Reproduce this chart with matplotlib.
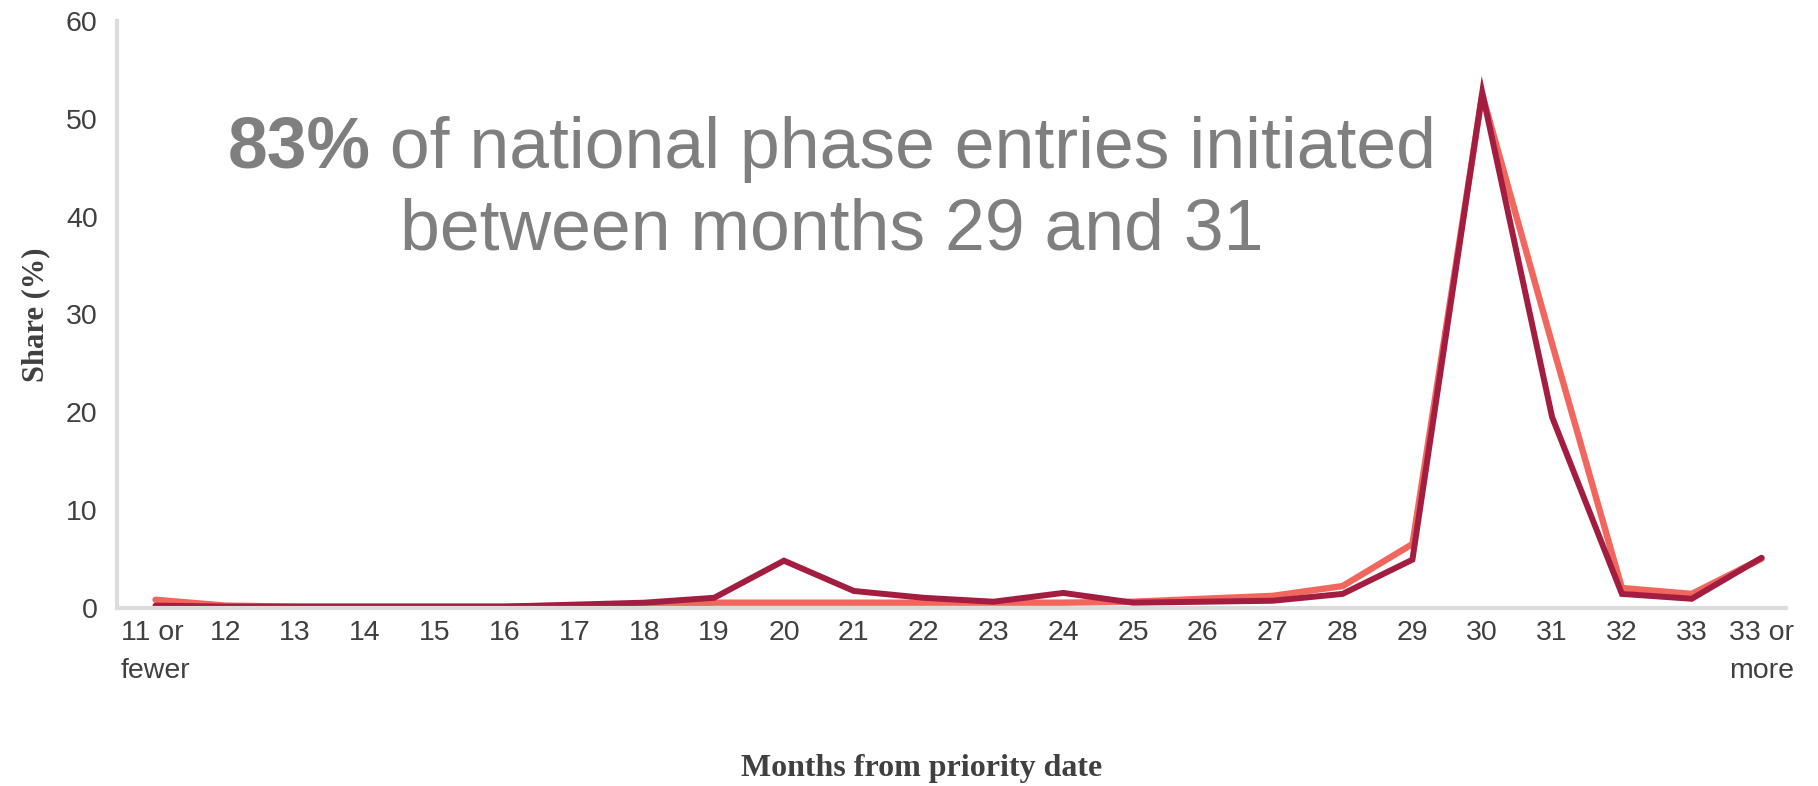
import matplotlib
matplotlib.use("Agg")
import matplotlib.pyplot as plt

# data
months = ["11 or\nfewer", "12", "13", "14", "15", "16", "17", "18", "19", "20",
          "21", "22", "23", "24", "25", "26", "27", "28", "29", "30",
          "31", "32", "33", "33 or\nmore"]
share_light = [0.8, 0.2, 0.1, 0.1, 0.1, 0.1, 0.2, 0.3, 0.5, 0.5,
               0.5, 0.5, 0.5, 0.5, 0.6, 0.9, 1.2, 2.2, 6.5, 52.5,
               27.0, 2.0, 1.4, 5.0]
share_dark = [0.2, 0.1, 0.1, 0.1, 0.1, 0.1, 0.3, 0.5, 1.0, 4.8,
              1.7, 1.0, 0.6, 1.5, 0.5, 0.6, 0.7, 1.4, 4.9, 52.7,
              19.5, 1.4, 0.9, 5.1]
yticks = [0, 10, 20, 30, 40, 50, 60]

LIGHT = "#f1675d"
DARK = "#a31d40"
GRID = "#dcdcdc"
TXT = "#404040"
GRAY = "#7f7f7f"

fig = plt.figure(figsize=(18.18, 7.86), dpi=100)
ax = fig.add_axes([0.0644, 0.227, 0.918, 0.746])

x = list(range(len(months)))
ax.plot(x, share_light, color=LIGHT, lw=4.6, solid_joinstyle="round", solid_capstyle="round")
ax.plot(x, share_dark, color=DARK, lw=4.3, solid_joinstyle="miter", solid_capstyle="round")

ax.set_xlim(-0.55, 23.35)
ax.set_ylim(0, 60)
ax.set_yticks(yticks)
ax.set_xticks(x)
ax.set_xticklabels(months)
for lbl in ax.get_xticklabels():
    t = lbl.get_text()
    if t.startswith("11"):
        lbl.set_multialignment("left")
    elif t.startswith("33 or"):
        lbl.set_multialignment("right")

ax.tick_params(length=0, labelsize=20.5, labelcolor=TXT)
ax.tick_params(axis="x", pad=9)
ax.tick_params(axis="y", pad=14)
for lbl in ax.get_xticklabels() + ax.get_yticklabels():
    lbl.set_fontfamily("Liberation Sans")
    lbl.set_linespacing(1.6)

for s in ["top", "right"]:
    ax.spines[s].set_visible(False)
for s in ["left", "bottom"]:
    ax.spines[s].set_color(GRID)
    ax.spines[s].set_linewidth(3)

ax.set_ylabel("Share (%)", fontsize=22, fontweight="bold", family="Liberation Serif",
              color=TXT, va="center")
ax.yaxis.set_label_coords(-0.049, 0.5)
ax.set_xlabel("Months from priority date", fontsize=23, fontweight="bold",
              family="Liberation Serif", color=TXT, va="center")
ax.xaxis.set_label_coords(0.482, -0.274)

# annotation, two lines centred on the same x (figure pixels)
fs = 51.5
cx = 832
y1 = 786 - 168
y2 = 786 - 249
renderer = fig.canvas.get_renderer()
tb = fig.text(0, 0, "83%", fontsize=fs, color=GRAY, fontweight="bold",
              family="Liberation Sans", ha="left", va="baseline", transform=None)
tr = fig.text(0, 0, " of national phase entries initiated", fontsize=fs, color=GRAY,
              family="Liberation Sans", ha="left", va="baseline", transform=None)
wb = tb.get_window_extent(renderer).width
wr = tr.get_window_extent(renderer).width
x0 = cx - (wb + wr) / 2
tb.set_position((x0, y1))
tr.set_position((x0 + wb, y1))
fig.text(cx, y2, "between months 29 and 31", fontsize=fs, color=GRAY,
         family="Liberation Sans", ha="center", va="baseline", transform=None)

fig.savefig("out.png", dpi=100)
